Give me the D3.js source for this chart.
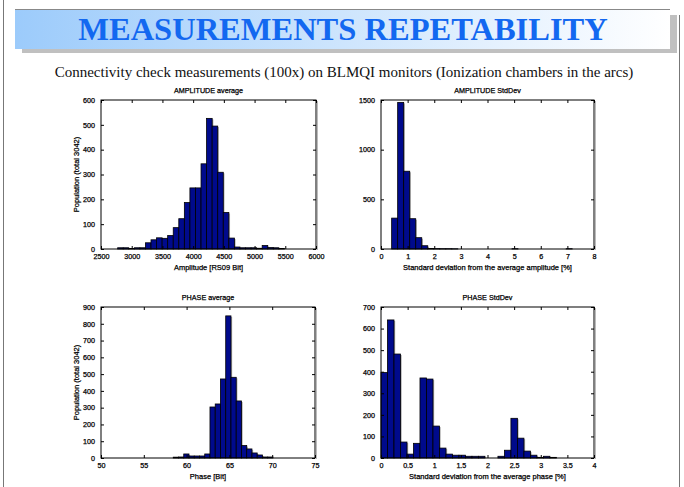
<!DOCTYPE html>
<html><head><meta charset="utf-8">
<script src="https://cdn.jsdelivr.net/npm/d3@7/dist/d3.min.js"></script>
<style>html,body{margin:0;padding:0;background:#fff}svg{display:block}</style>
</head><body>
<script>
// ---- data ----
const titleText = "MEASUREMENTS REPETABILITY";
const subtitleText = "Connectivity check measurements (100x) on BLMQI monitors (Ionization chambers in the arcs)";

// Amplitude average histogram (RS09 Bit)
const ampAvgStart = 2771, ampAvgWidth = 90.5;
const ampAvgCounts = [5,5,2,5,5,25,37,45,43,54,86,122,187,246,246,343,526,495,309,147,44,8,5,5,5,3,14,6,5,2];
const ampAvgXTicks = [2500,3000,3500,4000,4500,5000,5500,6000];
const ampAvgYTicks = [0,100,200,300,400,500,600];

// Amplitude StdDev histogram (%)
const ampSdStart = 0.40, ampSdWidth = 0.226;
const ampSdCounts = [311,1476,783,305,114,33,6,4,3,3,2,0,0,0,0,0,0,0,0,0,3,0,0,0,0,0,0,0,0,3];
const ampSdXTicks = [0,1,2,3,4,5,6,7,8];
const ampSdYTicks = [0,500,1000,1500];

// Phase average histogram (Bit)
const phAvgStart = 58.44, phAvgWidth = 0.613;
const phAvgCounts = [5,6,24,12,12,12,24,304,322,471,847,481,340,74,54,30,18,6,6];
const phAvgXTicks = [50,55,60,65,70,75];
const phAvgYTicks = [0,100,200,300,400,500,600,700,800,900];

// Phase StdDev histogram (%)
const phSdStart = 0, phSdWidth = 0.122;
const phSdCounts = [396,640,482,74,18,68,371,366,148,46,18,13,13,8,8,8,0,0,8,36,184,92,32,13,3,8,3];
const phSdXTicks = [0,0.5,1,1.5,2,2.5,3,3.5,4];
const phSdYTicks = [0,100,200,300,400,500,600,700];

const panels = [
  {title:"AMPLITUDE average", xlabel:"Amplitude [RS09 Bit]", ylabel:"Population (total 3042)",
   start:ampAvgStart, width:ampAvgWidth, counts:ampAvgCounts, xdom:[2500,6000], ydom:[0,600],
   xt:ampAvgXTicks, yt:ampAvgYTicks, box:[101,316,100,249]},
  {title:"AMPLITUDE StdDev", xlabel:"Standard deviation from the average amplitude [%]", ylabel:null,
   start:ampSdStart, width:ampSdWidth, counts:ampSdCounts, xdom:[0,8], ydom:[0,1500],
   xt:ampSdXTicks, yt:ampSdYTicks, box:[381,594,100,249]},
  {title:"PHASE average", xlabel:"Phase [Bit]", ylabel:"Population (total 3042)",
   start:phAvgStart, width:phAvgWidth, counts:phAvgCounts, xdom:[50,75], ydom:[0,900],
   xt:phAvgXTicks, yt:phAvgYTicks, box:[101,315,307,458]},
  {title:"PHASE StdDev", xlabel:"Standard deviation from the average phase [%]", ylabel:null,
   start:phSdStart, width:phSdWidth, counts:phSdCounts, xdom:[0,4], ydom:[0,700],
   xt:phSdXTicks, yt:phSdYTicks, box:[381,594,307,458]}
];

// ---- drawing ----
const W = 684, H = 487;
const svg = d3.select("body").append("svg").attr("width", W).attr("height", H);
const defs = svg.append("defs");
const grad = defs.append("linearGradient").attr("id","bannerGrad").attr("x1","0%").attr("x2","100%");
grad.append("stop").attr("offset","0%").attr("stop-color","#9ccbfb");
grad.append("stop").attr("offset","100%").attr("stop-color","#ffffff");

// slide borders
svg.append("line").attr("x1",3.5).attr("x2",3.5).attr("y1",0).attr("y2",H).attr("stroke","#777").attr("stroke-width",1);
svg.append("line").attr("x1",679.5).attr("x2",679.5).attr("y1",15).attr("y2",H).attr("stroke","#777").attr("stroke-width",1);

// banner shadow + banner
svg.append("rect").attr("x",22).attr("y",15).attr("width",655).attr("height",38).attr("fill","#c0c0c0");
svg.append("rect").attr("x",15).attr("y",10).attr("width",655).attr("height",39).attr("fill","url(#bannerGrad)");
svg.append("line").attr("x1",15).attr("x2",670).attr("y1",9.5).attr("y2",9.5).attr("stroke","#888").attr("stroke-width",1);
svg.append("text").attr("x",343).attr("y",40).attr("text-anchor","middle")
  .attr("font-family","'Liberation Serif','Times New Roman',serif").attr("font-weight","bold")
  .attr("font-size",32.5).attr("fill","#1368f0").text(titleText);

svg.append("text").attr("x",344).attr("y",77).attr("text-anchor","middle")
  .attr("font-family","'Liberation Serif','Times New Roman',serif")
  .attr("font-size",15).attr("fill","#111").text(subtitleText);

const sans = "'Liberation Sans',Arial,Helvetica,sans-serif";
const heavy = sel => sel.attr("stroke","#000").attr("stroke-width",0.25);

panels.forEach(p => {
  const [x0,x1,y0,y1] = p.box;
  const x = d3.scaleLinear().domain(p.xdom).range([x0,x1]);
  const y = d3.scaleLinear().domain(p.ydom).range([y1,y0]);
  const g = svg.append("g");

  const bins = p.counts.map((c,i) => ({x0: p.start + i*p.width, x1: p.start + (i+1)*p.width, c}));
  // soft shadow on bars
  g.append("g").selectAll("rect").data(bins.filter(b=>b.c>0)).join("rect")
    .attr("x", d => x(d.x0)+1.2).attr("y", d => y(d.c)+1)
    .attr("width", d => x(d.x1)-x(d.x0)).attr("height", d => y(0)-y(d.c)-1)
    .attr("fill","#aaa");
  g.append("g").selectAll("rect").data(bins.filter(b=>b.c>0)).join("rect")
    .attr("x", d => x(d.x0)).attr("y", d => y(d.c))
    .attr("width", d => x(d.x1)-x(d.x0)).attr("height", d => y(0)-y(d.c))
    .attr("fill","#000a8c").attr("stroke","#000").attr("stroke-width",0.8);

  const fmt = d => String(d);
  const ax = (gen, tr) => {
    const a = g.append("g").attr("transform", tr).call(gen);
    a.select(".domain").remove();
    a.selectAll("line").attr("stroke","#000");
    heavy(a.selectAll("text").attr("font-family",sans).attr("font-size",7.2).attr("fill","#000"));
    return a;
  };
  ax(d3.axisBottom(x).tickValues(p.xt).tickFormat(fmt).tickSize(-3).tickPadding(5), `translate(0,${y1})`);
  ax(d3.axisTop(x).tickValues(p.xt).tickFormat("").tickSize(-3), `translate(0,${y0})`);
  ax(d3.axisLeft(y).tickValues(p.yt).tickFormat(fmt).tickSize(-3).tickPadding(6), `translate(${x0},0)`);
  ax(d3.axisRight(y).tickValues(p.yt).tickFormat("").tickSize(-3), `translate(${x1},0)`);

  // right shadow of axes box
  g.append("line").attr("x1",x1+1.5).attr("x2",x1+1.5).attr("y1",y0+1).attr("y2",y1+1).attr("stroke","#bbb").attr("stroke-width",1);
  g.append("rect").attr("x",x0).attr("y",y0).attr("width",x1-x0).attr("height",y1-y0)
    .attr("fill","none").attr("stroke","#000").attr("stroke-width",1);

  heavy(g.append("text").attr("x",(x0+x1)/2).attr("y",y0-7).attr("text-anchor","middle")
    .attr("font-family",sans).attr("font-size",7.2).attr("fill","#000").text(p.title));
  heavy(g.append("text").attr("x",(x0+x1)/2).attr("y",y1+21).attr("text-anchor","middle")
    .attr("font-family",sans).attr("font-size",7.5).attr("fill","#000").text(p.xlabel));
  if (p.ylabel) {
    heavy(g.append("text").attr("transform",`translate(${x0-22},${(y0+y1)/2}) rotate(-90)`)
      .attr("text-anchor","middle").attr("font-family",sans).attr("font-size",7.5).attr("fill","#000").text(p.ylabel));
  }
});
</script>
</body></html>
